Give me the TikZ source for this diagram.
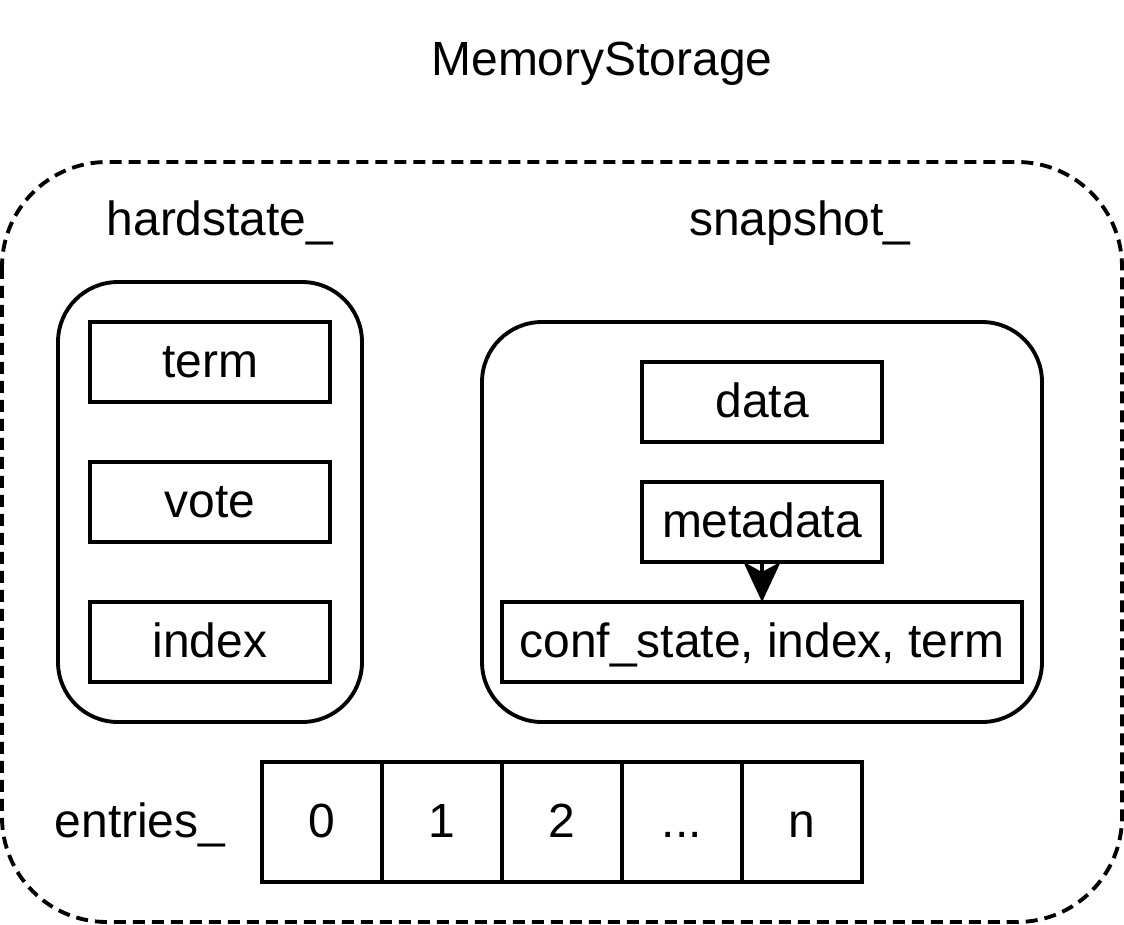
\documentclass[tikz,border=0pt]{standalone}
\usepackage{fontspec}
\setmainfont{Liberation Sans}
\usetikzlibrary{
  arrows.meta,           % Stealth tip for the metadata link
  positioning            % Row of entry cells
}

\tikzset{
  heading/.style={text height=18pt, text depth=0pt, inner sep=0pt},
  fieldbox/.style={draw, line width=2.2pt, minimum width=4.8cm, minimum height=1.6cm,
    inner sep=0pt, outer sep=0pt, text height=18pt, text depth=0pt},
  cellbox/.style={draw, line width=2.2pt, minimum width=2.4cm, minimum height=2.4cm,
    inner sep=0pt, outer sep=0pt, text height=18pt, text depth=0pt},
  groupbox/.style={draw, line width=2.2pt, rounded corners=1.2cm}
}

\begin{document}
\begin{tikzpicture}[x=0.02cm, y=-0.02cm, font=\fontsize{27.3}{32}\selectfont]
            \useasboundingbox (0,0) rectangle (1124,924);

            % Outer dashed storage frame and its title
            \draw[line width=2.2pt, dash pattern=on 0.24cm off 0.14cm, rounded corners=2.1cm]
                (2,162) rectangle (1122,922);
            \node[heading] (title) at (602,60) {MemoryStorage};

            % Hard state group
            \node[heading] (hardlabel) at (220,220) {hardstate\_};
            \draw[groupbox] (58,282) rectangle (362,722);
            \node[fieldbox] (term) at (210,362) {term};
            \node[fieldbox] (vote) at (210,502) {vote};
            \node[fieldbox] (index) at (210,642) {index};

            % Snapshot group
            \node[heading] (snaplabel) at (800,220) {snapshot\_};
            \draw[groupbox] (482,322) rectangle (1042,722);
            \node[fieldbox] (data) at (762,402) {data};
            \node[fieldbox] (meta) at (762,522) {metadata};
            \node[fieldbox, minimum width=10.4cm] (conf) at (762,642) {conf\_state, index, term};
            \draw[line width=2.2pt, -{Stealth[length=0.8cm, width=0.74cm, inset=0.2cm]}]
                (meta.south) -- (conf.north);

            % Log entries
            \node[heading] (entrylabel) at (140,822) {entries\_};
            \node[cellbox] (e0) at (322,822) {0};
            \node[cellbox, right=0pt of e0] (e1) {1};
            \node[cellbox, right=0pt of e1] (e2) {2};
            \node[cellbox, right=0pt of e2] (e3) {...};
            \node[cellbox, right=0pt of e3] (en) {n};
        \end{tikzpicture}
\end{document}
